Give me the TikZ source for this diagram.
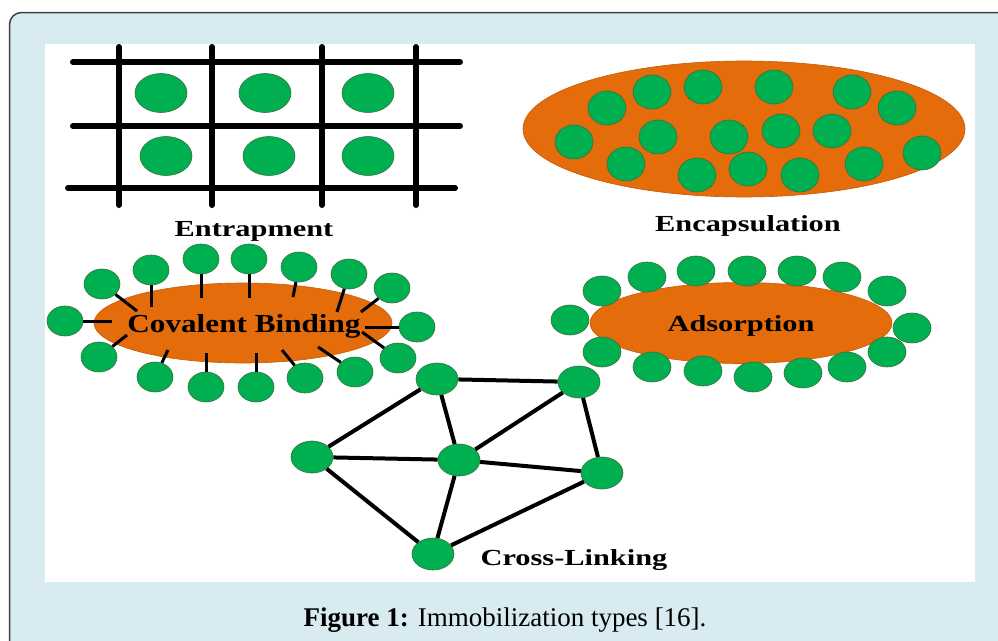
\documentclass[tikz,border=0pt]{standalone}
\usepackage{fontspec}
\setmainfont{Liberation Serif}
\usepackage{tikz}
\usetikzlibrary{shapes.geometric}
\definecolor{dotgreen}{HTML}{00B050}
\definecolor{dotedge}{HTML}{3B6E3B}
\definecolor{gelorange}{HTML}{E46C0A}
\definecolor{panelblue}{HTML}{D7EBF1}
\tikzset{
    green-dot/.style = {ellipse, fill=dotgreen, draw=dotedge, line width=0.6pt, inner sep=0pt},
    grid-dot/.style = {green-dot, minimum width=52pt, minimum height=39pt},
    caps-dot/.style = {green-dot, minimum width=38pt, minimum height=34pt},
    cov-dot/.style = {green-dot, minimum width=36pt, minimum height=30pt},
    ads-dot/.style = {green-dot, minimum width=38pt, minimum height=30pt},
    net-dot/.style = {green-dot, minimum width=42pt, minimum height=32pt},
    orange-disc/.style = {ellipse, fill=gelorange, draw=gelorange!85!black, line width=0.6pt, inner sep=0pt},
    type-label/.style = {font=\fontsize{23}{23}\selectfont\bfseries, xscale=#1, anchor=base, inner sep=0pt},
    type-label/.default = 1.32,
    grid-bar/.style = {line width=6pt, line cap=round},
    linker/.style = {line width=3pt},
    crosslink/.style = {line width=4pt},
}

\begin{document}
\begin{tikzpicture}[x=1pt, y=-1pt]
\clip (0,0) rectangle (998,640);
% panel
\draw[fill=panelblue, draw=black!75, line width=1.5pt, rounded corners=12pt] (9.5,12.5) rectangle (1030,680);
\fill[white] (45,44) rectangle (975,582);

% entrapment
\foreach \y in {62,126} \draw[grid-bar] (73,\y) -- (460,\y);
\draw[grid-bar] (68,188) -- (455,188);
\foreach \x in {119,212,322,416} \draw[grid-bar] (\x,47) -- (\x,205);
\foreach \x/\y [count=\i] in {161/93,265/93,368/93,166/156,269/156,368/156}
    \node[grid-dot] (ent\i) at (\x,\y) {};
\node[type-label] (entrapment) at (254,236) {Entrapment};

% encapsulation
\node[orange-disc, minimum width=442pt, minimum height=136pt] (capsule) at (744,129) {};
\foreach \x/\y [count=\i] in {607/108,652/92,703/87,774/87,852/92,897/108,574/142,658/137,729/137,781/131,832/131,922/153,626/164,697/175,748/169,800/175,864/164}
    \node[caps-dot] (cap\i) at (\x,\y) {};
\node[type-label] (encapsulation) at (748,231) {Encapsulation};

% covalent binding
\node[orange-disc, minimum width=298pt, minimum height=80pt] (carrier) at (243,323) {};
\foreach \x/\y/\ex/\ey [count=\i] in {65/321/112/321,102/284/137/311,151/270/151/307,201/259/201/298,249/259/249/298,299/267/293/297,349/274/337/312,392/288/361/312,417/327/365/327,398/358/362/332,355/372/318/347,305/378/282/350,256/387/256/353,206/387/206/353,155/377/168/350,99/357/127/335}
{
    \node[cov-dot] (cov\i) at (\x,\y) {};
    \coordinate (bond\i) at (\ex,\ey);
    \draw[linker] (cov\i) -- (bond\i);
}
\node[type-label=1.2, font=\fontsize{26}{26}\selectfont\bfseries] (covalent) at (244,332) {Covalent Binding};

% adsorption
\node[orange-disc, minimum width=302pt, minimum height=81pt] (support) at (741,323) {};
\foreach \x/\y [count=\i] in {570/320,602/291,647/277,696/271,747/271,797/271,842/277,887/291,912/328,887/352,847/367,803/373,753/377,703/371,652/367,602/352}
    \node[ads-dot] (ads\i) at (\x,\y) {};
\node[type-label] (adsorption) at (741,331) {Adsorption};

% cross-linking
\node[net-dot] (xa) at (437,379) {};
\node[net-dot] (xb) at (579,382) {};
\node[net-dot] (xc) at (312,457) {};
\node[net-dot] (xd) at (459,460) {};
\node[net-dot] (xe) at (602,473) {};
\node[net-dot] (xf) at (433,554) {};
\draw[crosslink] (xa) -- (xb) (xa) -- (xc) (xa) -- (xd) (xb) -- (xd) (xb) -- (xe);
\draw[crosslink] (xc) -- (xd) (xc) -- (xf) (xd) -- (xe) (xd) -- (xf) (xe) -- (xf);
\node[type-label] (crosslinking) at (574,565) {Cross-Linking};

\node[anchor=base, inner sep=0pt, font=\fontsize{27}{27}\selectfont] (caption) at (505,626) {\textbf{Figure 1:} Immobilization types [16].};
\end{tikzpicture}
\end{document}
